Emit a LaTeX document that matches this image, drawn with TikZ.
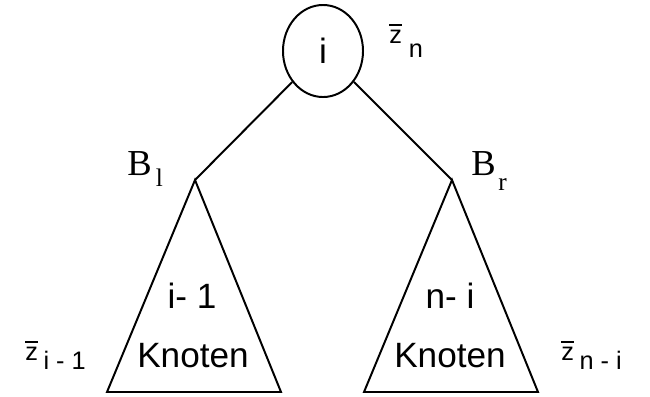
\documentclass[tikz,border=0pt]{standalone}
\usepackage{fontspec}
\setmainfont{Liberation Sans}
\newfontfamily\bfam{Liberation Serif}
\usetikzlibrary{shapes.geometric}

\newcommand{\zbar}{\rlap{\rule[1.3ex]{0.5em}{1.4pt}}z}

\begin{document}
\begin{tikzpicture}[
    x=0.025cm, y=-0.025cm,
    every node/.style={inner sep=0pt},
    edge/.style={draw=black, line width=1.4pt},
    bigtext/.style={font=\fontsize{25}{28}\selectfont, anchor=base},
    blabel/.style={font=\bfam\fontsize{26}{30}\selectfont, anchor=base west},
    zlabel/.style={font=\fontsize{18}{20}\selectfont, anchor=base west}
]
\useasboundingbox (0,0) rectangle (650,396);

% Root node
\node[ellipse, edge, minimum width=2cm, minimum height=2.3cm,
      font=\fontsize{25}{28}\selectfont] (root) at (323,51) {i};
\node[zlabel] (zn) at (389,43) {\zbar\hspace{5pt}\raisebox{-10pt}{n}};

% Left subtree
\coordinate (lapex) at (195,180);
\coordinate (lbaseL) at (107,392);
\coordinate (lbaseR) at (281,392);

% Right subtree
\coordinate (rapex) at (452,180);
\coordinate (rbaseL) at (364,392);
\coordinate (rbaseR) at (538,392);

% Edges and triangles
\draw[edge] (root) -- (lapex);
\draw[edge] (root) -- (rapex);
\draw[edge] (lapex) -- (lbaseL) -- (lbaseR) -- cycle;
\draw[edge] (rapex) -- (rbaseL) -- (rbaseR) -- cycle;

% Subtree labels
\node[blabel] (bl) at (127,175) {B\hspace{3pt}\raisebox{-8pt}{\fontsize{18}{20}\selectfont l}};
\node[blabel] (br) at (471,175) {B\hspace{2pt}\raisebox{-11pt}{\fontsize{18}{20}\selectfont r}};

\node[bigtext] (lcount) at (192,308) {i- 1};
\node[bigtext] (lknoten) at (193,367) {Knoten};
\node[bigtext] (rcount) at (450,308) {n- i};
\node[bigtext] (rknoten) at (450,367) {Knoten};

% Sizes of the subtrees
\node[zlabel] (zl) at (25,360) {\zbar\hspace{4pt}\raisebox{-7pt}{i - 1}};
\node[zlabel] (zr) at (561,360) {\zbar\hspace{4pt}\raisebox{-7pt}{n - i}};

\end{tikzpicture}
\end{document}
